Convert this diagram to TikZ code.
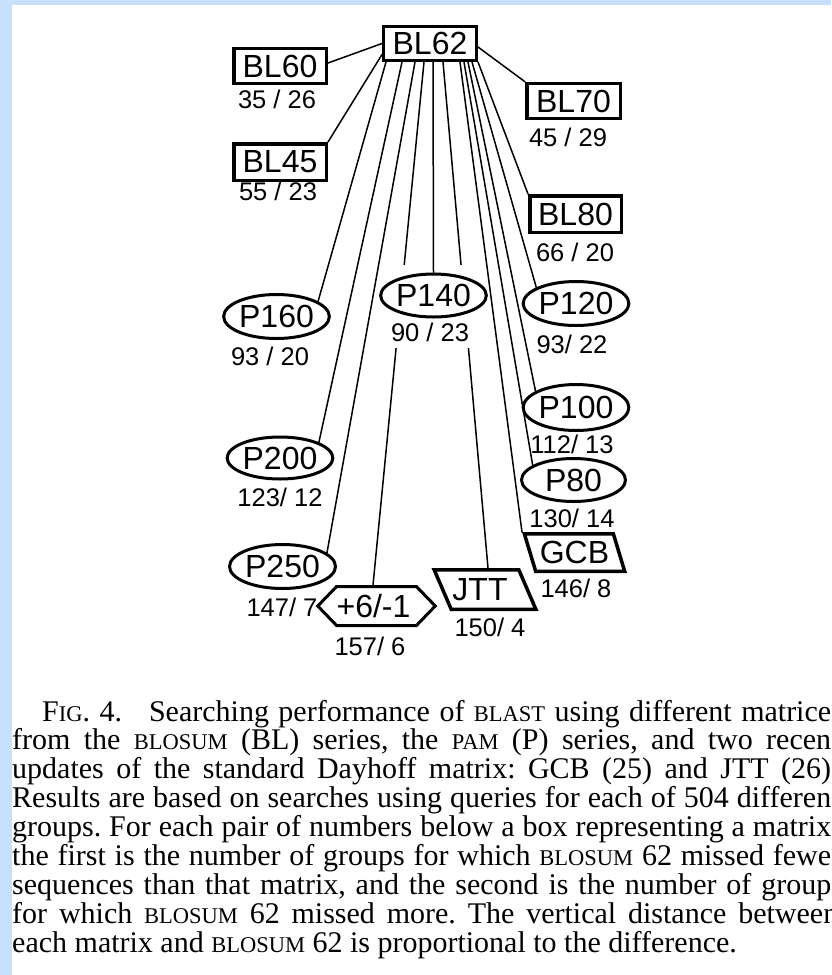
\documentclass[tikz,border=0pt]{standalone}
\usepackage{fontspec}
\setmainfont{Liberation Serif}
\newfontfamily\diagfont{Liberation Sans}
\usetikzlibrary{shapes.geometric,shapes.symbols}

\definecolor{frameblue}{RGB}{199,224,251}

\newcommand\matfont{\diagfont\fontsize{32}{32}\selectfont}
\newcommand\scorefont{\diagfont\fontsize{25.5}{26}\selectfont}
\newcommand\capsm[1]{{\fontsize{22.5}{29}\selectfont #1}}
\newcommand\capline[1]{\hbox to 819pt{#1}}

\pgfdeclarelayer{bg}
\pgfdeclarelayer{back}
\pgfdeclarelayer{gap}
\pgfsetlayers{bg,back,gap,main}

\begin{document}
\frenchspacing
\begin{tikzpicture}[x=1pt,y=-1pt,
  matbox/.style={rectangle, draw, line width=3.5pt, fill=white, inner sep=0pt,
    minimum width=92.5pt, minimum height=35pt, font=\matfont},
  matell/.style={ellipse, draw, line width=3pt, fill=white, inner sep=0pt,
    minimum width=104pt, minimum height=43pt, font=\matfont},
  matpar/.style={trapezium, trapezium stretches=true, draw, line width=3.5pt,
    fill=white, inner sep=0pt, font=\matfont},
  score/.style={inner sep=0pt, font=\scorefont},
  link/.style={line width=1.5pt, line cap=round}]

\useasboundingbox (0,0) rectangle (831,975);
\begin{pgfonlayer}{bg}
  \fill[white] (0,0) rectangle (831,975);
  \fill[frameblue] (0,0) rectangle (12,975);
  \fill[frameblue] (0,0) rectangle (831,5);
\end{pgfonlayer}

\begin{scope}
\clip (0,0) rectangle (831,975);

% BLOSUM matrices
\node[matbox, line width=3pt, minimum width=93pt, minimum height=34pt] (bl62) at (430,43.5) {BL62};
\node[matbox] (bl60) at (280,66) {BL60};
\node[matbox, minimum width=93.5pt] (bl70) at (573.5,101) {BL70};
\node[matbox, minimum height=36.5pt] (bl45) at (280,162) {BL45};
\node[matbox, minimum width=91.5pt, minimum height=36.5pt] (bl80) at (575.5,214) {BL80};

% PAM matrices
\node[matell] (p140) at (433.5,295.5) {P140};
\node[matell, minimum height=44pt] (p160) at (276.5,316.5) {P160};
\node[matell, minimum width=105pt, minimum height=44pt] (p120) at (576,303.5) {P120};
\node[matell, minimum width=105pt, minimum height=46pt] (p100) at (576,407.5) {P100};
\node[matell, minimum width=103pt, minimum height=42pt] (p200) at (280,458) {P200};
\node[matell, minimum height=43pt] (p80) at (573.5,480) {P80};
\node[matell, minimum width=106pt, minimum height=44pt] (p250) at (282.5,566.5) {P250};

% other matrices
\node[matpar, trapezium left angle=114, trapezium right angle=66,
  minimum width=101pt, minimum height=37.5pt] (gcb) at (574.5,552.5) {GCB};
\node[matpar, trapezium left angle=117, trapezium right angle=63,
  minimum width=102pt, minimum height=39.5pt] (jtt) at (485,589.5) {\hspace*{-10pt}JTT};
\node[signal, signal to=east and west, signal pointer angle=92, draw,
  line width=3pt, fill=white, inner sep=0pt, minimum width=104pt,
  minimum height=39pt, font=\matfont] (hex) at (376.5,606) {+6/-1\hspace*{6pt}};

% score pairs
\node[score] (s60) at (277,99) {35 / 26};
\node[score] (s70) at (568,137) {45 / 29};
\node[score] (s45) at (278,191) {55 / 23};
\node[score] (s80) at (575,252) {66 / 20};
\node[score] (s140) at (430,332) {90 / 23};
\node[score] (s160) at (270,356) {93 / 20};
\node[score] (s120) at (572,344) {93/ 22};
\node[score] (s100) at (572,444) {112/ 13};
\node[score] (s200) at (280,497) {123/ 12};
\node[score] (s80p) at (572,518) {130/ 14};
\node[score] (s250) at (282,607) {147/ 7};
\node[score] (sgcb) at (576,588) {146/ 8};
\node[score] (sjtt) at (490,627) {150/ 4};
\node[score] (shex) at (370,646) {157/ 6};

% links that run behind P140
\begin{pgfonlayer}{back}
  \draw[link] ([xshift=-6pt]bl62.south) -- ([xshift=-3.5pt]hex.north);
  \draw[link] ([xshift=13pt]bl62.south) -- ([xshift=3pt]jtt.north);
\end{pgfonlayer}
\begin{pgfonlayer}{gap}
  \node[fill=white, inner sep=0pt, minimum width=96pt, minimum height=83pt]
    (p140gap) at (433,306.5) {};
\end{pgfonlayer}

% links from BL62
\begin{pgfonlayer}{back}
  \draw[link] (bl62.west) -- ([yshift=3pt]bl60.east);
  \draw[link] ([yshift=-3.5pt]bl62.east) -- (bl70.north west);
  \draw[link] ([yshift=-11pt]bl62.west) -- (bl45.north east);
\end{pgfonlayer}
\begin{pgfonlayer}{gap}
  \draw[link] ([xshift=-44pt]bl62.south) -- (p160.20);
  \draw[link] ([xshift=-28pt]bl62.south) -- (p200.22);
  \draw[link] ([xshift=-15pt]bl62.south) -- (p250.17);
  \draw[link] ([xshift=3pt]bl62.south) -- (p140.north);
  \draw[link] ([xshift=30pt]bl62.south) -- (gcb.top left corner);
  \draw[link] ([xshift=34pt]bl62.south) -- (p80.160);
  \draw[link] ([xshift=38pt]bl62.south) -- (p100.158);
  \draw[link] ([xshift=42pt]bl62.south) -- (p120.158);
  \draw[link] (bl62.south east) -- (bl80.north west);
\end{pgfonlayer}

% caption, set flush against the right edge of the page
\node[anchor=base west, inner sep=0pt, font=\fontsize{30}{29}\selectfont] (caption) at (12,721)
{\vtop{\baselineskip=28.9pt \lineskiplimit=-100pt \lineskip=0pt
  \capline{\hskip30pt F\capsm{IG}. 4.\hskip 0.9em Searching performance of \capsm{BLAST} using different matrice}
  \capline{from the \capsm{BLOSUM} (BL) series, the \capsm{PAM} (P) series, and two recen}
  \capline{updates of the standard Dayhoff matrix: GCB (25) and JTT (26)}
  \capline{Results are based on searches using queries for each of 504 differen}
  \capline{groups. For each pair of numbers below a box representing a matrix}
  \capline{the first is the number of groups for which \capsm{BLOSUM} 62 missed fewe}
  \capline{sequences than that matrix, and the second is the number of group}
  \hbox to 826pt{for which \capsm{BLOSUM} 62 missed more. The vertical distance between}
  \hbox{each matrix and \capsm{BLOSUM} 62 is proportional to the difference.}}};
\end{scope}
\end{tikzpicture}
\end{document}
